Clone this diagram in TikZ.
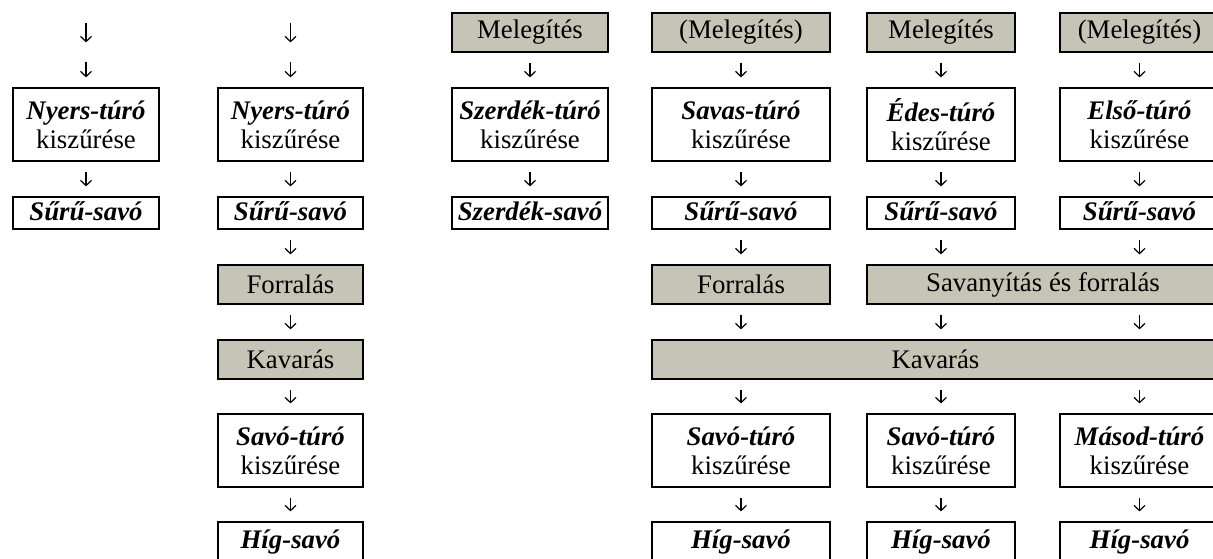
\documentclass[tikz,border=0pt]{standalone}
\usepackage{fontspec}
\setmainfont{Liberation Serif}
\usetikzlibrary{arrows.meta}
\definecolor{szurke}{RGB}{198,196,182}
\newcommand{\nev}[1]{\textbf{\textit{#1}}}

\begin{document}
\begin{tikzpicture}[x=0.5pt, y=-0.5pt,
  every node/.style={font=\fontsize{13.4}{14.5}\selectfont, inner sep=0pt},
  cell/.style={draw, line width=1pt, minimum width=#1},
  work/.style={cell=#1, fill=szurke, minimum height=19.5pt},
  one/.style={minimum height=16pt, text height=9.5pt, text depth=2.5pt},
  two/.style={minimum height=36.5pt, align=center, execute at begin node={\rule{0pt}{12.5pt}}},
  low/.style={minimum height=20pt, text height=9.5pt, text depth=3pt},
  flow/.style={-{Straight Barb[length=2.6pt,width=5.5pt]}, line width=0.6pt, shorten <=4.8pt, shorten >=4.8pt}]
\useasboundingbox (0,0) rectangle (1213,558);
\clip (0,0) rectangle (1213,558);
% first column
\coordinate (a0) at (86,13);
\coordinate (a1) at (86,52);
\node[cell=73pt, two] (a2) at (86,124.5) {\nev{Nyers-túró}\\kiszűrése};
\node[cell=73pt, one] (a3) at (86,213) {\nev{Sűrű-savó}};
\draw[flow] (a0) -- (a1);
\draw[flow] (a1) -- (a2);
\draw[flow] (a2) -- (a3);
% second column
\coordinate (b0) at (290.5,13);
\coordinate (b1) at (290.5,52);
\node[cell=72.5pt, two] (b2) at (290.5,124.5) {\nev{Nyers-túró}\\kiszűrése};
\node[cell=72.5pt, one] (b3) at (290.5,213) {\nev{Sűrű-savó}};
\node[work=72.5pt] (b4) at (290.5,284.5) {Forralás};
\node[work=72.5pt] (b5) at (290.5,359.5) {Kavarás};
\node[cell=72.5pt, two] (b6) at (290.5,450.5) {\nev{Savó-túró}\\kiszűrése};
\node[cell=72.5pt, low] (b7) at (290.5,542) {\nev{Híg-savó}};
\draw[flow] (b0) -- (b1);
\draw[flow] (b1) -- (b2);
\draw[flow] (b2) -- (b3);
\draw[flow] (b3) -- (b4);
\draw[flow] (b4) -- (b5);
\draw[flow] (b5) -- (b6);
\draw[flow] (b6) -- (b7);
% third column
\node[work=78pt] (c0) at (530,32.5) {Melegítés};
\node[cell=78pt, two] (c1) at (530,124.5) {\nev{Szerdék-túró}\\kiszűrése};
\node[cell=78pt, one] (c2) at (530,213) {\nev{Szerdék-savó}};
\draw[flow] (c0) -- (c1);
\draw[flow] (c1) -- (c2);
% shared boxes
\node[work=176pt] (sav) at (1043,284.5) {Savanyítás és forralás};
\node[work=283.5pt] (kav) at (935.5,359.5) {Kavarás};
% fourth column
\node[work=89pt] (d0) at (741,32.5) {(Melegítés)};
\node[cell=89pt, two] (d1) at (741,124.5) {\nev{Savas-túró}\\kiszűrése};
\node[cell=89pt, one] (d2) at (741,213) {\nev{Sűrű-savó}};
\node[work=89pt] (d3) at (741,284.5) {Forralás};
\node[cell=89pt, two] (d5) at (741,450.5) {\nev{Savó-túró}\\kiszűrése};
\node[cell=89pt, low] (d6) at (741,542) {\nev{Híg-savó}};
\draw[flow] (d0) -- (d1);
\draw[flow] (d1) -- (d2);
\draw[flow] (d2) -- (d3);
\draw[flow] (d3) -- (d3 |- kav.north);
\draw[flow] (kav.south -| d5) -- (d5);
\draw[flow] (d5) -- (d6);
% fifth column
\node[work=74pt] (e0) at (941,32.5) {Melegítés};
\node[cell=74pt, two] (e1) at (941,124.5) {\nev{Édes-túró}\\kiszűrése};
\node[cell=74pt, one] (e2) at (941,213) {\nev{Sűrű-savó}};
\node[cell=74pt, two] (e5) at (941,450.5) {\nev{Savó-túró}\\kiszűrése};
\node[cell=74pt, low] (e6) at (941,542) {\nev{Híg-savó}};
\draw[flow] (e0) -- (e1);
\draw[flow] (e1) -- (e2);
\draw[flow] (e2) -- (e2 |- sav.north);
\draw[flow] (sav.south -| e2) -- (e2 |- kav.north);
\draw[flow] (kav.south -| e5) -- (e5);
\draw[flow] (e5) -- (e6);
% sixth column
\node[work=79.5pt] (f0) at (1139.5,32.5) {(Melegítés)};
\node[cell=79.5pt, two] (f1) at (1139.5,124.5) {\nev{Első-túró}\\kiszűrése};
\node[cell=79.5pt, one] (f2) at (1139.5,213) {\nev{Sűrű-savó}};
\node[cell=79.5pt, two] (f5) at (1139.5,450.5) {\nev{Másod-túró}\\kiszűrése};
\node[cell=79.5pt, low] (f6) at (1139.5,542) {\nev{Híg-savó}};
\draw[flow] (f0) -- (f1);
\draw[flow] (f1) -- (f2);
\draw[flow] (f2) -- (f2 |- sav.north);
\draw[flow] (sav.south -| f2) -- (f2 |- kav.north);
\draw[flow] (kav.south -| f5) -- (f5);
\draw[flow] (f5) -- (f6);
\end{tikzpicture}
\end{document}
